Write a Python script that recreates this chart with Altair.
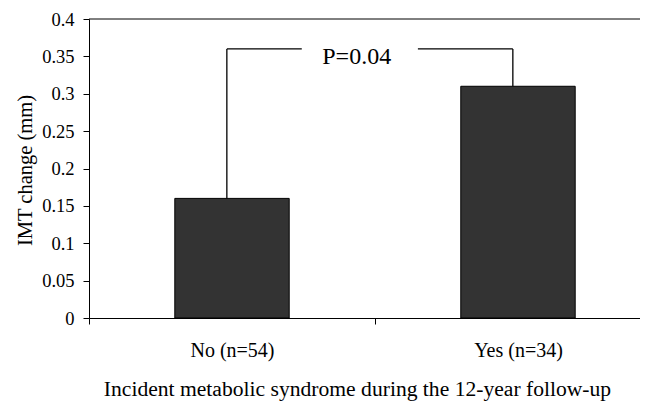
import altair as alt
import pandas as pd

# ---- data ----
categories = ["No (n=54)", "Yes (n=34)"]
imt_change = [0.16, 0.31]
y_ticks = [0, 0.05, 0.1, 0.15, 0.2, 0.25, 0.3, 0.35, 0.4]
y_max = 0.4
x_max = 1.9266          # visible part of the category axis (chart is cropped on the right)
bar_halfwidth = 0.2     # Excel-like gap width 150%

# significance bracket
bracket_x = [0.482, 1.482]
bracket_y = 0.36
bracket_gap = [0.744, 1.150]
p_label = "P=0.04"
p_x = 0.936
p_y = 0.34

FONT = "Liberation Serif"

pos = [i + 0.5 for i in range(len(categories))]
bars_df = pd.DataFrame({
    "category": categories,
    "value": imt_change,
    "base": [0.0] * len(categories),
    "x0": [p - bar_halfwidth for p in pos],
    "x1": [p + bar_halfwidth for p in pos],
})

seg_df = pd.DataFrame({
    "x":  [bracket_x[0], bracket_x[0], bracket_gap[1], bracket_x[1]],
    "x2": [bracket_x[0], bracket_gap[0], bracket_x[1], bracket_x[1]],
    "y":  [imt_change[0], bracket_y, bracket_y, bracket_y],
    "y2": [bracket_y, bracket_y, bracket_y, imt_change[1]],
})
p_df = pd.DataFrame({"x": [p_x], "y": [p_y], "label": [p_label]})
top_df = pd.DataFrame({"y": [y_max]})

label_expr = " : ".join(
    f"datum.value == {p} ? '{c}'" for p, c in zip(pos, categories)
) + " : ''"

x_scale = alt.Scale(domain=[0, x_max], nice=False, zero=True)
y_scale = alt.Scale(domain=[0, y_max], nice=False)

x_axis = alt.Axis(
    values=[0, 0.5, 1, 1.5],
    labelExpr=label_expr,
    tickOpacity={"condition": {"test": "datum.value % 1 != 0", "value": 0}, "value": 1},
    title="Incident metabolic syndrome during the 12-year follow-up",
    labelFontSize=20, labelBaseline="alphabetic", labelPadding=32, labelOverlap=False,
    labelFlush=False, labelBound=False,
    tickSize=6,
    titleFontSize=21.6, titleX=268, titleY=77, titleBaseline="alphabetic", titleAlign="center",
)
y_axis = alt.Axis(
    values=y_ticks, format="~g",
    title="IMT change (mm)",
    labelFontSize=18.5, labelPadding=9, tickSize=6, labelFont=FONT,
    titleFontSize=20.5, titleX=-57.5, titleY=151, titleBaseline="alphabetic", titleAlign="center",
)

bars = alt.Chart(bars_df).mark_bar(color="#333333", stroke="black", strokeWidth=1).encode(
    x=alt.X("x0:Q", scale=x_scale, axis=x_axis),
    x2="x1:Q",
    y=alt.Y("value:Q", scale=y_scale, axis=y_axis),
    y2="base:Q",
)

top_line = alt.Chart(top_df).mark_rule(color="black", strokeWidth=1).encode(
    y=alt.Y("y:Q", scale=y_scale, axis=y_axis),
)

segs = alt.Chart(seg_df).mark_rule(color="black", strokeWidth=1.3).encode(
    x=alt.X("x:Q", scale=x_scale, axis=x_axis),
    x2="x2:Q",
    y=alt.Y("y:Q", scale=y_scale, axis=y_axis),
    y2="y2:Q",
)

ptext = alt.Chart(p_df).mark_text(
    font=FONT, fontSize=24, align="center", baseline="alphabetic", color="black"
).encode(
    x=alt.X("x:Q", scale=x_scale, axis=x_axis),
    y=alt.Y("y:Q", scale=y_scale, axis=y_axis),
    text="label:N",
)

chart = alt.layer(bars, top_line, segs, ptext).properties(
    width=551, height=299,
    autosize=alt.AutoSizeParams(type="none"),
    padding={"left": 81, "top": 11, "right": 0, "bottom": 83},
).configure_view(stroke=None).configure_axis(
    grid=False, domainColor="black", tickColor="black", labelColor="black",
    titleColor="black", labelFont=FONT, titleFont=FONT, titleFontWeight="normal",
    domainWidth=1, tickWidth=1,
)

chart.save("out.html", embed_options={"renderer": "svg", "actions": False})
